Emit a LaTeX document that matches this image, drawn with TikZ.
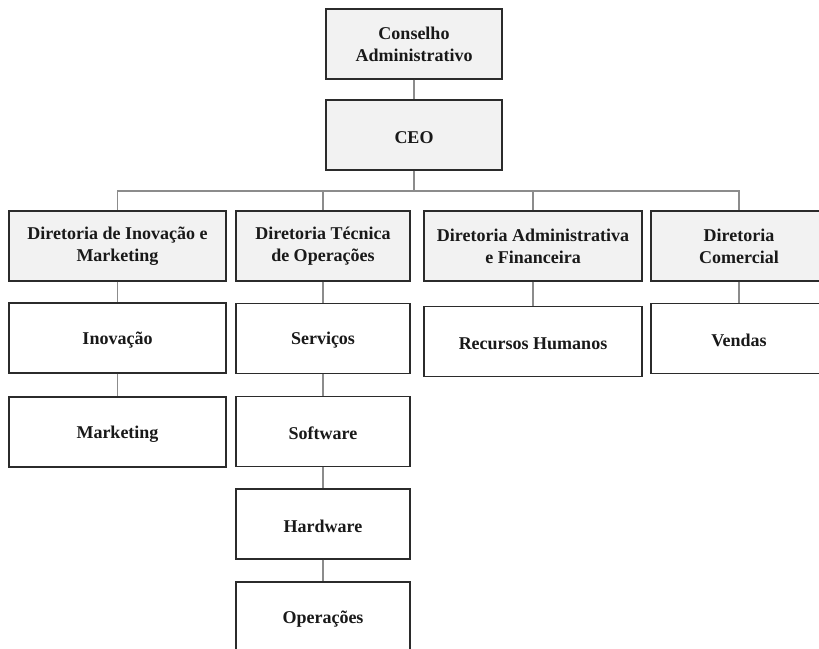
\documentclass[tikz,border=0pt]{standalone}
\usepackage{fontspec}
\setmainfont{Liberation Serif}
\definecolor{boxgray}{HTML}{F2F2F2}
\definecolor{boxline}{HTML}{2B2B2B}
\definecolor{connline}{HTML}{8C8C8C}
\begin{document}
\begin{tikzpicture}[x=1pt,y=-1pt,
  unit/.style={draw=boxline, line width=1.3pt, fill=white, rectangle, align=center,
    font=\fontsize{18}{22}\selectfont\bfseries, inner sep=2pt, text=black!90,
    execute at begin node={\rule{0pt}{16.5pt}}},
  head/.style={unit, fill=boxgray},
  conn/.style={draw=connline, line width=1.1pt}]
\useasboundingbox (0,0) rectangle (819,648);
\clip (0,0) rectangle (819,648);
% top
\node[head, minimum width=176pt, minimum height=70pt] (cons) at (414,44) {Conselho\\Administrativo};
\node[head, minimum width=176pt, minimum height=70pt] (ceo) at (414,135) {CEO};
% directorates
\node[head, minimum width=217pt, minimum height=70pt] (d1) at (117.5,246) {Diretoria de Inovação e\\Marketing};
\node[head, minimum width=174pt, minimum height=70pt] (d2) at (323,246) {Diretoria Técnica\\de Operações};
\node[head, minimum width=218pt, minimum height=70pt] (d3) at (533,246) {Diretoria Administrativa\\e Financeira};
\node[head, minimum width=176pt, minimum height=70pt] (d4) at (739,246) {Diretoria\\Comercial};
% units
\node[unit, minimum width=217pt, minimum height=70pt] (inov) at (117.5,338) {Inovação};
\node[unit, minimum width=217pt, minimum height=70pt] (mkt) at (117.5,432) {Marketing};
\node[unit, minimum width=174pt, minimum height=70pt] (serv) at (323,338.5) {Serviços};
\node[unit, minimum width=174pt, minimum height=70pt] (soft) at (323,431.5) {Software};
\node[unit, minimum width=174pt, minimum height=70pt] (hard) at (323,524) {Hardware};
\node[unit, minimum width=174pt, minimum height=70pt] (oper) at (323,617) {Operações};
\node[unit, minimum width=218pt, minimum height=70pt] (rh) at (533,341.5) {Recursos Humanos};
\node[unit, minimum width=176pt, minimum height=70pt] (vend) at (739,338.5) {Vendas};
% connectors
\coordinate (bus) at (414,191);
\draw[conn] (cons.south) -- (ceo.north);
\draw[conn] (ceo.south) -- (bus);
\draw[conn] (bus) -| (d1.north);
\draw[conn] (bus) -| (d2.north);
\draw[conn] (bus) -| (d3.north);
\draw[conn] (bus) -| (d4.north);
\draw[conn] (d1.south) -- (inov.north);
\draw[conn] (inov.south) -- (mkt.north);
\draw[conn] (d2.south) -- (serv.north);
\draw[conn] (serv.south) -- (soft.north);
\draw[conn] (soft.south) -- (hard.north);
\draw[conn] (hard.south) -- (oper.north);
\draw[conn] (d3.south) -- (rh.north);
\draw[conn] (d4.south) -- (vend.north);
\end{tikzpicture}
\end{document}
